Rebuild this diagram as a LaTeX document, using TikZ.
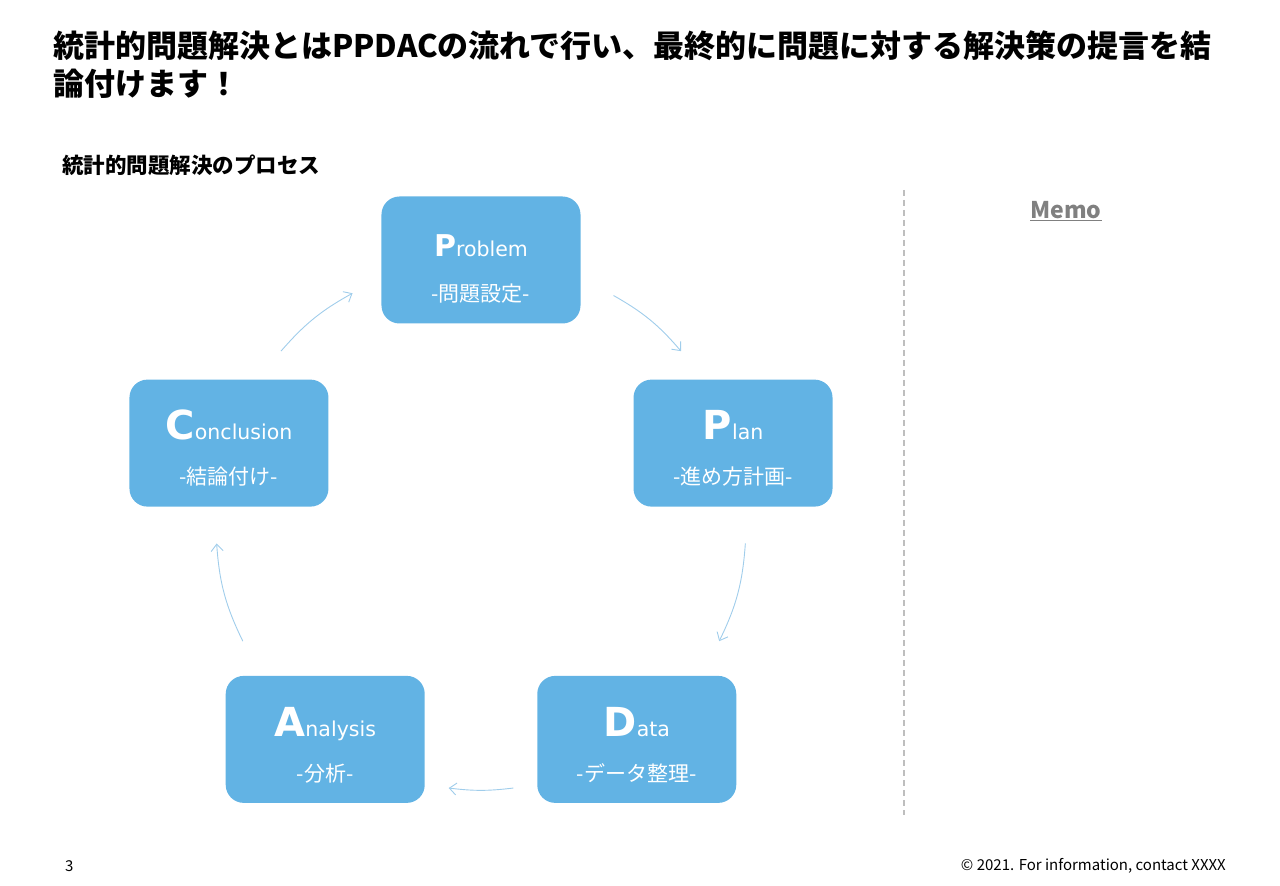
\documentclass[tikz,border=0pt]{standalone}
\usepackage{fontspec}
\setmainfont{Noto Sans CJK JP}
\newfontfamily\stagefont{DejaVu Sans}
\usepackage{tikz}
\usetikzlibrary{arrows.meta}

\definecolor{stageblue}{RGB}{98,179,228}
\definecolor{flowblue}{RGB}{160,205,235}
\definecolor{memogray}{RGB}{128,128,128}
\definecolor{sepgray}{RGB}{190,190,190}

% big initial, rest of the word, japanese subtitle
\newcommand{\stagelabel}[4]{\rule{0pt}{40pt}{\stagefont\bfseries\fontsize{#1}{#1}\selectfont #2}{\stagefont\fontsize{20.5}{20.5}\selectfont #3}\\{-#4-}}

\begin{document}
\begin{tikzpicture}[x=1pt, y=1pt,
    stage/.style={fill=stageblue, rounded corners=18pt, minimum width=199pt, minimum height=127pt,
      text=white, align=center, inner sep=0pt, font=\fontsize{21}{45}\selectfont},
    flow/.style={draw=flowblue, line width=0.9pt, -{Straight Barb[length=7pt, width=12pt]}}]

    % page frame, origin at the centre of the cycle
    \useasboundingbox (-481, -361) rectangle (799, 525);

    % draw title and heading
    \node[anchor=north west, inner sep=0pt, align=left, font=\fontsize{31}{38}\selectfont\bfseries] (title)
      at (-428, 494) {統計的問題解決とはPPDACの流れで行い、最終的に問題に対する解決策の提言を結\\論付けます！};
    \node[anchor=west, inner sep=0pt, font=\fontsize{21.5}{21.5}\selectfont\bfseries] (heading)
      at (-419, 360) {統計的問題解決のプロセス};

    % draw the five stages
    \node[stage] (problem) at (90 : 265) {\stagelabel{30}{P}{roblem}{問題設定}};
    \node[stage] (plan) at (18 : 265) {\stagelabel{40}{P}{lan}{進め方計画}};
    \node[stage] (data) at (-54 : 265) {\stagelabel{40}{D}{ata}{データ整理}};
    \node[stage] (analysis) at (-126 : 265) {\stagelabel{40}{A}{nalysis}{分析}};
    \node[stage] (conclusion) at (162 : 265) {\stagelabel{40}{C}{onclusion}{結論付け}};

    % draw arrows on the circle
    \coordinate (f1s) at (60 : 265);  \coordinate (f1e) at (41 : 265);
    \coordinate (f2s) at (-4 : 265);  \coordinate (f2e) at (-26 : 265);
    \coordinate (f3s) at (-83 : 265); \coordinate (f3e) at (-97 : 265);
    \coordinate (f4s) at (206 : 265); \coordinate (f4e) at (184 : 265);
    \coordinate (f5s) at (139 : 265); \coordinate (f5e) at (119 : 265);
    \draw[flow] (f1s) to[bend left=10] (f1e);
    \draw[flow] (f2s) to[bend left=11] (f2e);
    \draw[flow] (f3s) to[bend left=7] (f3e);
    \draw[flow] (f4s) to[bend left=11] (f4e);
    \draw[flow] (f5s) to[bend left=10] (f5e);

    % draw separator and memo
    \coordinate (septop) at (423, 335);
    \coordinate (sepbot) at (423, -290);
    \draw[sepgray, line width=1.2pt, dash pattern=on 6pt off 4pt] (septop) -- (sepbot);
    \node[font=\fontsize{23}{23}\selectfont\bfseries, text=memogray] (memo) at (585, 314) {\underline{Memo}};

    % draw footer
    \node[anchor=west, inner sep=0pt, font=\fontsize{15}{15}\selectfont] (page) at (-416, -341) {3};
    \node[anchor=east, inner sep=0pt, font=\fontsize{15}{15}\selectfont] (copy) at (745, -341) {© 2021. For information, contact XXXX};

\end{tikzpicture}
\end{document}
